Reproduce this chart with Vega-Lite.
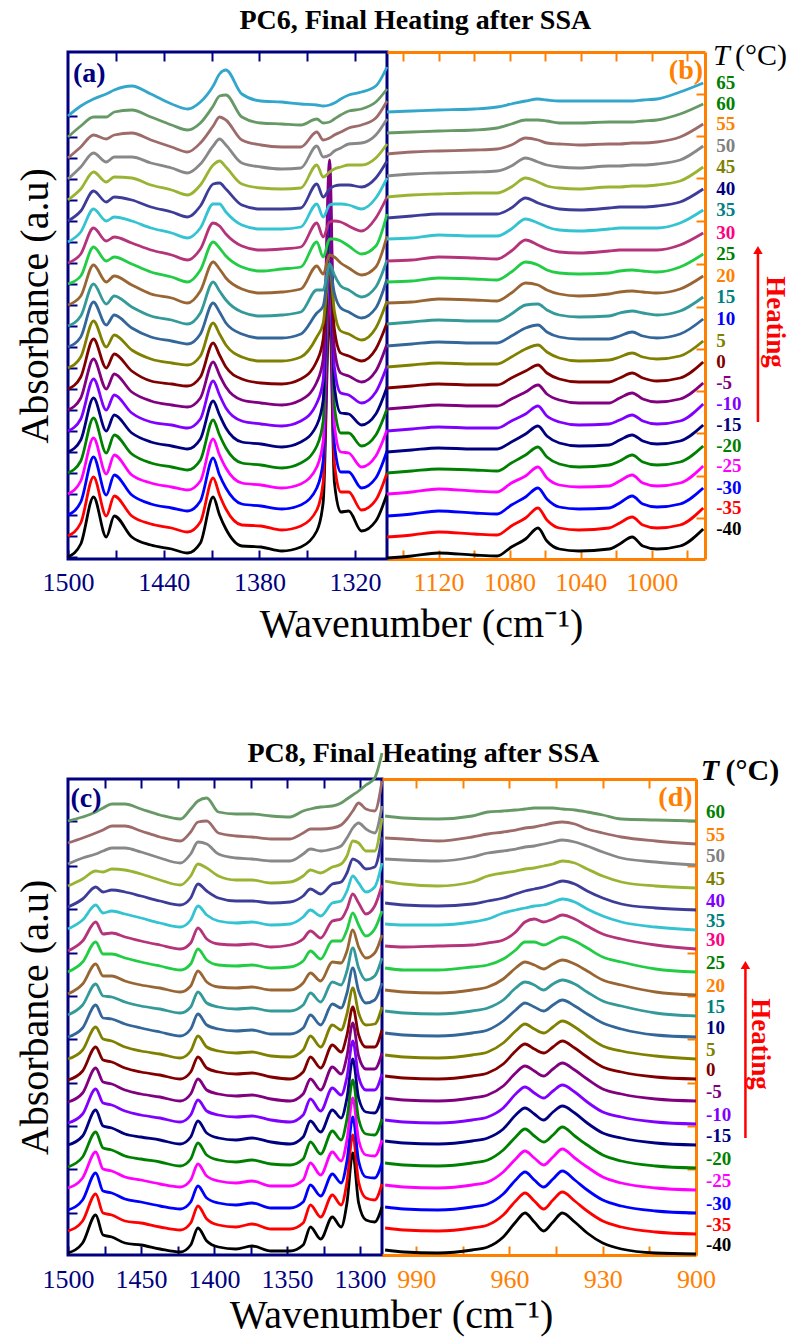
{
"$schema":"https://vega.github.io/schema/vega-lite/v6.json",
"background":"white",
"padding":{"left":13,"top":7,"right":0,"bottom":0},
"config":{"view":{"stroke":null},"axis":{"grid":false,"labelFlush":false},"font":"Liberation Serif"},
"spacing":94,
"resolve":{"scale":{"color":"independent"}},
"datasets":{
"A":[
{"T":-40,"x":[1500,1492,1484,1476,1471,1460,1448,1435,1425,1417,1409,1405,1401,1391,1379,1366,1354,1344,1340,1336,1333,1329,1324,1316,1307,1300],"y":[2,15,62,22,43,22,14,10,6,16,62,44,30,13,12,8,12,28,57,252,77,47,48,28,38,65]},
{"T":-35,"x":[1500,1492,1484,1476,1471,1460,1448,1435,1425,1417,1409,1405,1401,1391,1379,1366,1354,1344,1340,1336,1333,1329,1324,1316,1307,1300],"y":[23,36,82,43,63,43,35,31,27,37,81,64,50,34,33,29,33,49,77,273,96,67,67,49,59,86]},
{"T":-30,"x":[1500,1492,1484,1476,1471,1460,1448,1435,1425,1417,1409,1405,1401,1391,1379,1366,1354,1344,1340,1336,1333,1329,1324,1316,1307,1300],"y":[44,57,102,64,84,64,55,51,48,58,101,84,71,55,53,50,54,71,98,294,115,87,87,71,81,108]},
{"T":-25,"x":[1500,1492,1484,1476,1471,1460,1448,1435,1425,1417,1409,1405,1401,1391,1379,1366,1354,1344,1340,1336,1333,1329,1324,1316,1307,1300],"y":[65,78,121,85,104,84,76,72,69,78,120,104,91,76,74,71,75,92,118,315,134,107,106,92,103,129]},
{"T":-20,"x":[1500,1492,1484,1476,1471,1460,1448,1435,1425,1417,1409,1405,1401,1391,1379,1366,1354,1344,1340,1336,1333,1329,1324,1316,1307,1300],"y":[86,98,141,106,124,105,96,92,89,99,139,124,111,96,94,91,96,113,138,336,153,126,126,113,124,150]},
{"T":-15,"x":[1500,1492,1484,1476,1471,1460,1448,1435,1425,1417,1409,1405,1401,1391,1379,1366,1354,1344,1340,1336,1333,1329,1324,1316,1307,1300],"y":[107,119,161,128,144,126,117,113,110,120,158,144,131,117,115,112,117,134,159,357,173,146,145,134,145,172]},
{"T":-10,"x":[1500,1492,1484,1476,1471,1460,1448,1435,1425,1417,1409,1405,1401,1391,1379,1366,1354,1344,1340,1336,1333,1329,1324,1316,1307,1300],"y":[128,140,180,149,164,146,137,134,131,140,178,164,151,138,135,133,138,156,179,378,192,166,164,156,167,193]},
{"T":-5,"x":[1500,1492,1484,1476,1471,1460,1448,1435,1425,1417,1409,1405,1401,1391,1379,1366,1354,1344,1340,1336,1333,1329,1324,1316,1307,1300],"y":[149,161,200,170,185,167,158,154,152,161,197,184,172,159,156,154,159,177,200,399,211,186,183,177,188,215]},
{"T":0,"x":[1500,1492,1484,1476,1471,1460,1448,1435,1425,1417,1409,1405,1401,1391,1379,1366,1354,1344,1340,1336,1333,1329,1324,1316,1307,1300],"y":[170,182,220,191,205,188,178,175,173,182,216,204,192,180,176,175,180,198,220,292,230,206,203,198,210,236]},
{"T":5,"x":[1500,1492,1484,1476,1471,1460,1448,1435,1425,1417,1409,1405,1401,1391,1379,1366,1354,1344,1340,1336,1333,1329,1324,1316,1307,1300],"y":[191,202,238,212,224,209,200,196,194,203,236,225,214,202,198,198,202,222,236,292,248,228,225,219,231,258]},
{"T":10,"x":[1500,1492,1484,1476,1471,1460,1448,1435,1425,1417,1409,1405,1401,1391,1379,1366,1354,1344,1340,1336,1333,1329,1324,1316,1307,1300],"y":[212,222,257,234,244,231,222,218,215,225,256,247,236,225,221,221,225,246,253,292,266,251,247,241,251,280]},
{"T":15,"x":[1500,1492,1484,1476,1471,1460,1448,1435,1425,1417,1409,1405,1401,1391,1379,1366,1354,1344,1340,1336,1333,1329,1324,1316,1307,1300],"y":[233,243,275,255,263,252,243,239,235,246,277,268,259,247,243,244,247,269,269,295,284,273,269,262,272,299]},
{"T":20,"x":[1500,1492,1484,1476,1471,1460,1448,1435,1425,1417,1409,1405,1401,1391,1379,1366,1354,1344,1340,1336,1333,1329,1324,1316,1307,1300],"y":[254,263,294,277,283,274,265,261,256,268,297,290,281,270,266,267,270,293,285,304,302,296,291,284,292,323]},
{"T":25,"x":[1500,1492,1484,1476,1471,1460,1448,1435,1425,1417,1409,1405,1401,1391,1379,1366,1354,1344,1340,1336,1333,1329,1324,1316,1307,1300],"y":[275,283,312,298,302,295,287,282,277,289,317,311,303,292,288,290,292,317,302,320,320,318,313,305,313,345]},
{"T":30,"x":[1500,1492,1484,1476,1471,1460,1448,1435,1425,1417,1409,1405,1401,1391,1379,1366,1354,1344,1340,1336,1333,1329,1324,1316,1307,1300],"y":[296,305,331,318,322,316,309,304,299,310,336,333,325,313,309,310,312,336,322,337,338,337,333,328,341,362]},
{"T":35,"x":[1500,1492,1484,1476,1471,1460,1448,1435,1425,1417,1409,1405,1401,1391,1379,1366,1354,1344,1340,1336,1333,1329,1324,1316,1307,1300],"y":[317,327,350,338,342,338,331,326,321,331,355,355,347,334,330,330,332,355,342,354,355,355,354,350,361,381]},
{"T":40,"x":[1500,1492,1484,1476,1471,1460,1448,1435,1425,1417,1409,1405,1401,1391,1379,1366,1354,1344,1340,1336,1333,1329,1324,1316,1307,1300],"y":[338,348,368,357,362,359,352,347,342,353,375,376,370,354,350,350,351,375,362,370,373,374,374,372,381,398]},
{"T":45,"x":[1500,1492,1484,1476,1471,1460,1448,1435,1425,1417,1409,1405,1401,1391,1379,1366,1354,1344,1340,1336,1333,1329,1324,1316,1307,1300],"y":[359,370,387,377,382,381,374,369,364,374,394,398,392,375,371,370,371,394,382,387,390,392,394,394,401,415]},
{"T":50,"x":[1500,1492,1484,1476,1471,1460,1448,1435,1425,1417,1409,1405,1401,1391,1379,1366,1354,1344,1340,1336,1333,1329,1324,1316,1307,1300],"y":[380,392,406,397,402,402,396,391,386,395,413,420,414,396,392,390,391,413,402,404,408,411,415,416,424,440]},
{"T":55,"x":[1500,1492,1484,1476,1471,1460,1448,1435,1425,1417,1409,1405,1401,1391,1379,1366,1354,1344,1340,1336,1333,1329,1324,1316,1307,1300],"y":[401,412,424,420,424,426,419,412,407,416,433,442,439,419,414,412,412,427,419,421,424,427,431,434,441,458]},
{"T":60,"x":[1500,1492,1484,1476,1471,1460,1448,1435,1425,1417,1409,1405,1401,1391,1379,1366,1354,1344,1340,1336,1333,1329,1324,1316,1307,1300],"y":[422,433,442,442,447,449,442,434,429,436,453,463,464,442,436,435,434,440,436,437,440,444,448,450,457,470]},
{"T":65,"x":[1500,1492,1484,1476,1471,1460,1448,1435,1425,1417,1409,1405,1401,1391,1379,1366,1354,1344,1340,1336,1333,1329,1324,1316,1307,1300],"y":[443,453,460,465,469,473,465,455,450,457,473,485,489,465,458,457,455,454,453,454,456,460,464,467,473,492]}
],
"B":[
{"T":-40,"x":[1149,1135,1120,1100,1087,1079,1071,1064,1059,1052,1041,1024,1018,1011,1005,997,984,971],"y":[1,3,6,4,3,12,20,31,18,10,8,10,15,22,13,10,13,30]},
{"T":-35,"x":[1149,1135,1120,1100,1087,1079,1071,1064,1059,1052,1041,1024,1018,1011,1005,997,984,971],"y":[22,24,27,25,24,33,41,51,39,31,29,31,36,42,34,31,34,51]},
{"T":-30,"x":[1149,1135,1120,1100,1087,1079,1071,1064,1059,1052,1041,1024,1018,1011,1005,997,984,971],"y":[43,45,48,46,45,54,62,71,60,52,50,51,56,63,55,52,55,71]},
{"T":-25,"x":[1149,1135,1120,1100,1087,1079,1071,1064,1059,1052,1041,1024,1018,1011,1005,997,984,971],"y":[65,67,70,68,67,76,83,92,81,74,72,73,78,84,76,73,76,93]},
{"T":-20,"x":[1149,1135,1120,1100,1087,1079,1071,1064,1059,1052,1041,1024,1018,1011,1005,997,984,971],"y":[86,88,90,89,88,96,104,112,102,95,92,94,98,104,97,94,97,113]},
{"T":-15,"x":[1149,1135,1120,1100,1087,1079,1071,1064,1059,1052,1041,1024,1018,1011,1005,997,984,971],"y":[107,109,111,110,110,117,125,133,123,116,113,114,119,124,118,115,118,134]},
{"T":-10,"x":[1149,1135,1120,1100,1087,1079,1071,1064,1059,1052,1041,1024,1018,1011,1005,997,984,971],"y":[128,130,132,131,131,138,145,153,143,137,134,135,139,144,138,135,138,155]},
{"T":-5,"x":[1149,1135,1120,1100,1087,1079,1071,1064,1059,1052,1041,1024,1018,1011,1005,997,984,971],"y":[150,152,154,153,153,160,167,174,165,159,156,156,161,166,160,157,160,176]},
{"T":0,"x":[1149,1135,1120,1100,1087,1079,1071,1064,1059,1052,1041,1024,1018,1011,1005,997,984,971],"y":[171,173,175,174,174,181,188,194,186,180,177,177,181,186,181,178,181,197]},
{"T":5,"x":[1149,1135,1120,1100,1087,1079,1071,1064,1059,1052,1041,1024,1018,1011,1005,997,984,971],"y":[192,194,196,195,195,202,210,214,207,201,198,199,202,206,202,200,203,218]},
{"T":10,"x":[1149,1135,1120,1100,1087,1079,1071,1064,1059,1052,1041,1024,1018,1011,1005,997,984,971],"y":[213,215,217,216,216,223,231,234,227,222,220,220,223,227,223,221,225,240]},
{"T":15,"x":[1149,1135,1120,1100,1087,1079,1071,1064,1059,1052,1041,1024,1018,1011,1005,997,984,971],"y":[235,237,239,238,238,245,254,255,249,244,242,243,246,248,246,244,248,262]},
{"T":20,"x":[1149,1135,1120,1100,1087,1079,1071,1064,1059,1052,1041,1024,1018,1011,1005,997,984,971],"y":[256,257,260,259,258,266,276,274,269,265,263,265,267,268,267,266,270,283]},
{"T":25,"x":[1149,1135,1120,1100,1087,1079,1071,1064,1059,1052,1041,1024,1018,1011,1005,997,984,971],"y":[277,278,281,280,279,287,297,294,289,286,285,286,288,289,288,287,292,305]},
{"T":30,"x":[1149,1135,1120,1100,1087,1079,1071,1064,1059,1052,1041,1024,1018,1011,1005,997,984,971],"y":[298,299,302,301,300,308,319,314,310,307,306,308,309,309,309,309,314,326]},
{"T":35,"x":[1149,1135,1120,1100,1087,1079,1071,1064,1059,1052,1041,1024,1018,1011,1005,997,984,971],"y":[320,321,324,323,323,330,340,336,332,329,328,330,331,331,331,331,336,349]},
{"T":40,"x":[1149,1135,1120,1100,1087,1079,1071,1064,1059,1052,1041,1024,1018,1011,1005,997,984,971],"y":[341,343,345,345,345,351,361,356,353,350,349,351,352,352,352,353,357,370]},
{"T":45,"x":[1149,1135,1120,1100,1087,1079,1071,1064,1059,1052,1041,1024,1018,1011,1005,997,984,971],"y":[362,364,365,366,366,372,381,377,373,371,370,372,372,373,373,374,378,392]},
{"T":50,"x":[1149,1135,1120,1100,1087,1079,1071,1064,1059,1052,1041,1024,1018,1011,1005,997,984,971],"y":[383,385,386,387,388,393,401,397,394,392,391,393,393,394,394,395,399,413]},
{"T":55,"x":[1149,1135,1120,1100,1087,1079,1071,1064,1059,1052,1041,1024,1018,1011,1005,997,984,971],"y":[405,407,408,409,410,414,421,419,416,415,414,415,415,416,416,417,422,435]},
{"T":60,"x":[1149,1135,1120,1100,1087,1079,1071,1064,1059,1052,1041,1024,1018,1011,1005,997,984,971],"y":[426,427,428,429,431,435,439,439,438,436,436,437,437,437,438,439,445,455]},
{"T":65,"x":[1149,1135,1120,1100,1087,1079,1071,1064,1059,1052,1041,1024,1018,1011,1005,997,984,971],"y":[447,448,449,450,452,455,458,460,459,458,458,458,458,458,459,460,467,476]}
],
"C":[
{"T":-40,"x":[1500,1490,1481,1476,1470,1461,1450,1437,1423,1416,1411,1405,1397,1385,1374,1361,1348,1339,1334,1327,1319,1313,1309,1305,1301,1296,1290,1285],"y":[2,12,40,20,18,12,10,6,3,10,27,14,8,6,9,4,4,10,28,16,38,28,52,102,52,35,33,48]},
{"T":-35,"x":[1500,1490,1481,1476,1470,1461,1450,1437,1423,1416,1411,1405,1397,1385,1374,1361,1348,1339,1334,1327,1319,1313,1309,1305,1301,1296,1290,1285],"y":[24,34,61,42,40,34,32,28,25,32,49,36,30,28,31,26,26,32,50,38,60,50,73,120,73,57,55,71]},
{"T":-30,"x":[1500,1490,1481,1476,1470,1461,1450,1437,1423,1416,1411,1405,1397,1385,1374,1361,1348,1339,1334,1327,1319,1313,1309,1305,1301,1296,1290,1285],"y":[45,55,82,64,62,56,53,49,46,53,69,57,52,50,52,47,47,53,70,59,81,72,94,138,94,78,77,92]},
{"T":-25,"x":[1500,1490,1481,1476,1470,1461,1450,1437,1423,1416,1411,1405,1397,1385,1374,1361,1348,1339,1334,1327,1319,1313,1309,1305,1301,1296,1290,1285],"y":[67,77,103,86,84,78,75,71,68,75,91,79,74,72,74,69,69,75,92,80,103,94,115,157,115,100,99,115]},
{"T":-20,"x":[1500,1490,1481,1476,1470,1461,1450,1437,1423,1416,1411,1405,1397,1385,1374,1361,1348,1339,1334,1327,1319,1313,1309,1305,1301,1296,1290,1285],"y":[88,98,123,107,105,99,96,93,89,96,112,100,95,93,95,91,90,96,113,101,124,115,136,175,136,121,120,136]},
{"T":-15,"x":[1500,1490,1481,1476,1470,1461,1450,1437,1423,1416,1411,1405,1397,1385,1374,1361,1348,1339,1334,1327,1319,1313,1309,1305,1301,1296,1290,1285],"y":[110,119,145,129,127,121,118,115,111,118,134,122,117,115,117,113,111,118,134,123,145,137,157,196,157,143,142,158]},
{"T":-10,"x":[1500,1490,1481,1476,1470,1461,1450,1437,1423,1416,1411,1405,1397,1385,1374,1361,1348,1339,1334,1327,1319,1313,1309,1305,1301,1296,1290,1285],"y":[132,141,166,152,150,144,140,137,133,140,155,144,140,138,139,135,133,140,156,144,167,160,178,214,178,165,165,181]},
{"T":-5,"x":[1500,1490,1481,1476,1470,1461,1450,1437,1423,1416,1411,1405,1397,1385,1374,1361,1348,1339,1334,1327,1319,1313,1309,1305,1301,1296,1290,1285],"y":[153,162,187,173,171,165,161,158,154,161,176,165,161,159,160,156,154,161,176,165,188,181,199,232,199,186,186,202]},
{"T":0,"x":[1500,1490,1481,1476,1470,1461,1450,1437,1423,1416,1411,1405,1397,1385,1374,1361,1348,1339,1334,1327,1319,1313,1309,1305,1301,1296,1290,1285],"y":[175,184,208,195,193,187,183,180,176,183,198,187,183,181,182,178,176,183,198,187,210,203,220,248,220,208,208,225]},
{"T":5,"x":[1500,1490,1481,1476,1470,1461,1450,1437,1423,1416,1411,1405,1397,1385,1374,1361,1348,1339,1334,1327,1319,1313,1309,1305,1301,1296,1290,1285],"y":[196,205,228,216,214,208,204,201,197,204,219,208,204,202,203,199,198,205,219,208,230,225,241,267,242,230,231,248]},
{"T":10,"x":[1500,1490,1481,1476,1470,1461,1450,1437,1423,1416,1411,1405,1397,1385,1374,1361,1348,1339,1334,1327,1319,1313,1309,1305,1301,1296,1290,1285],"y":[218,227,250,237,236,231,227,223,219,226,241,230,226,224,225,221,221,227,240,230,251,247,262,287,264,252,255,272]},
{"T":15,"x":[1500,1490,1481,1476,1470,1461,1450,1437,1423,1416,1411,1405,1397,1385,1374,1361,1348,1339,1334,1327,1319,1313,1309,1305,1301,1296,1290,1285],"y":[240,250,271,259,258,253,249,246,242,248,263,252,248,246,247,244,244,250,262,253,273,270,284,307,287,275,279,297]},
{"T":20,"x":[1500,1490,1481,1476,1470,1461,1450,1437,1423,1416,1411,1405,1397,1385,1374,1361,1348,1339,1334,1327,1319,1313,1309,1305,1301,1296,1290,1285],"y":[261,271,291,279,279,274,270,267,263,269,284,273,268,267,268,265,265,272,282,274,293,292,304,325,308,297,302,320]},
{"T":25,"x":[1500,1490,1481,1476,1470,1461,1450,1437,1423,1416,1411,1405,1397,1385,1374,1361,1348,1339,1334,1327,1319,1313,1309,1305,1301,1296,1290,1285],"y":[283,293,313,301,301,297,293,289,285,291,306,295,290,289,290,287,288,294,304,296,314,314,325,342,330,319,326,344]},
{"T":30,"x":[1500,1490,1481,1476,1470,1461,1450,1437,1423,1416,1411,1405,1397,1385,1374,1361,1348,1339,1334,1327,1319,1313,1309,1305,1301,1296,1290,1285],"y":[304,314,333,321,322,318,314,310,306,312,327,316,311,310,311,308,310,316,324,317,334,336,346,361,352,341,349,370]},
{"T":35,"x":[1500,1490,1481,1476,1470,1461,1450,1437,1423,1416,1411,1405,1397,1385,1374,1361,1348,1339,1334,1327,1319,1313,1309,1305,1301,1296,1290,1285],"y":[326,335,350,342,344,341,337,332,328,335,349,340,334,332,333,330,331,338,345,339,352,354,364,379,372,363,368,392]},
{"T":40,"x":[1500,1490,1481,1476,1470,1461,1450,1437,1423,1416,1411,1405,1397,1385,1374,1361,1348,1339,1334,1327,1319,1313,1309,1305,1301,1296,1290,1285],"y":[348,356,368,363,365,363,359,354,350,357,371,364,357,354,354,352,353,359,366,361,371,373,382,396,393,386,388,418]},
{"T":45,"x":[1500,1490,1481,1476,1470,1461,1450,1437,1423,1416,1411,1405,1397,1385,1374,1361,1348,1339,1334,1327,1319,1313,1309,1305,1301,1296,1290,1285],"y":[369,376,384,383,386,385,381,375,370,379,391,387,379,375,375,372,373,379,385,382,388,391,399,414,412,404,404,437]},
{"T":50,"x":[1500,1490,1481,1476,1470,1461,1450,1437,1423,1416,1411,1405,1397,1385,1374,1361,1348,1339,1334,1327,1319,1313,1309,1305,1301,1296,1290,1285],"y":[391,397,401,404,407,407,403,397,392,401,413,411,401,397,396,394,394,401,406,404,406,409,417,427,432,426,422,449]},
{"T":55,"x":[1500,1490,1481,1476,1470,1461,1450,1437,1423,1416,1411,1405,1397,1385,1374,1361,1348,1339,1334,1327,1319,1313,1309,1305,1301,1296,1290,1285],"y":[412,417,422,425,429,429,424,418,414,423,433,434,422,419,418,416,416,422,426,426,427,430,436,444,452,446,444,474]},
{"T":60,"x":[1500,1490,1481,1476,1470,1461,1450,1437,1423,1416,1411,1405,1397,1385,1374,1361,1348,1339,1334,1327,1319,1313,1309,1305,1301,1296,1290,1285],"y":[434,438,443,447,451,451,446,440,436,446,454,457,443,441,441,439,438,444,446,448,449,452,456,460,464,470,477,502]}
],
"D":[
{"T":-40,"x":[1000,994,983,972,967,962,958,955,952,949,946,943,939,935,930,924,913,900],"y":[5,3,2,5,8,18,33,42,33,24,33,42,33,22,12,6,2,1]},
{"T":-35,"x":[1000,994,983,972,967,962,958,955,952,949,946,943,939,935,930,924,913,900],"y":[27,25,24,27,30,40,54,62,54,46,55,63,54,44,34,28,23,21]},
{"T":-30,"x":[1000,994,983,972,967,962,958,955,952,949,946,943,939,935,930,924,913,900],"y":[48,46,45,48,51,61,75,83,75,68,76,84,75,65,55,49,44,42]},
{"T":-25,"x":[1000,994,983,972,967,962,958,955,952,949,946,943,939,935,930,924,913,900],"y":[70,68,67,70,73,83,96,104,97,90,98,106,97,88,78,72,67,65]},
{"T":-20,"x":[1000,994,983,972,967,962,958,955,952,949,946,943,939,935,930,924,913,900],"y":[92,90,89,92,95,105,118,126,119,113,120,128,119,110,100,94,89,87]},
{"T":-15,"x":[1000,994,983,972,967,962,958,955,952,949,946,943,939,935,930,924,913,900],"y":[114,112,111,114,117,126,140,147,141,135,143,149,142,132,122,117,112,110]},
{"T":-10,"x":[1000,994,983,972,967,962,958,955,952,949,946,943,939,935,930,924,913,900],"y":[135,133,132,135,138,147,161,168,162,157,164,170,163,153,143,138,133,131]},
{"T":-5,"x":[1000,994,983,972,967,962,958,955,952,949,946,943,939,935,930,924,913,900],"y":[157,155,154,157,160,169,182,189,184,179,186,192,185,176,166,161,156,154]},
{"T":0,"x":[1000,994,983,972,967,962,958,955,952,949,946,943,939,935,930,924,913,900],"y":[179,177,176,179,182,191,204,211,206,202,208,214,207,198,188,183,178,176]},
{"T":5,"x":[1000,994,983,972,967,962,958,955,952,949,946,943,939,935,930,924,913,900],"y":[200,198,197,200,203,212,224,231,226,222,228,234,228,219,209,204,199,196]},
{"T":10,"x":[1000,994,983,972,967,962,958,955,952,949,946,943,939,935,930,924,913,900],"y":[222,220,219,222,225,234,245,252,248,244,250,255,249,241,232,226,220,218]},
{"T":15,"x":[1000,994,983,972,967,962,958,955,952,949,946,943,939,935,930,924,913,900],"y":[244,242,241,244,247,255,267,273,270,265,271,275,271,263,254,249,242,239]},
{"T":20,"x":[1000,994,983,972,967,962,958,955,952,949,946,943,939,935,930,924,913,900],"y":[265,263,262,265,268,276,287,293,290,286,291,295,291,284,275,270,263,260]},
{"T":25,"x":[1000,994,983,972,967,962,958,955,952,949,946,943,939,935,930,924,913,900],"y":[287,285,285,288,290,296,305,313,313,310,314,318,314,307,298,293,286,283]},
{"T":30,"x":[1000,994,983,972,967,962,958,955,952,949,946,943,939,935,930,924,913,900],"y":[309,308,309,310,312,315,323,333,336,333,336,340,336,329,321,316,310,306]},
{"T":35,"x":[1000,994,983,972,967,962,958,955,952,949,946,943,939,935,930,924,913,900],"y":[331,330,330,333,336,342,345,347,349,350,353,356,353,346,339,333,328,325]},
{"T":40,"x":[1000,994,983,972,967,962,958,955,952,949,946,943,939,935,930,924,913,900],"y":[352,350,349,351,354,357,361,364,366,368,371,374,371,364,357,351,347,345]},
{"T":45,"x":[1000,994,983,972,967,962,958,955,952,949,946,943,939,935,930,924,913,900],"y":[374,371,369,373,379,382,384,386,387,389,391,394,392,386,379,373,369,367]},
{"T":50,"x":[1000,994,983,972,967,962,958,955,952,949,946,943,939,935,930,924,913,900],"y":[396,395,394,398,402,404,406,408,409,411,413,415,413,409,403,397,393,390]},
{"T":55,"x":[1000,994,983,972,967,962,958,955,952,949,946,943,939,935,930,924,913,900],"y":[417,416,414,418,421,423,425,427,428,430,432,433,431,426,422,418,414,411]},
{"T":60,"x":[1000,994,983,972,967,962,958,955,952,949,946,943,939,935,930,924,913,900],"y":[439,437,436,439,443,444,445,446,447,447,447,446,445,443,440,436,435,434]}
]
},
"vconcat":[
{
"title":{"text":"PC6, Final Heating after SSA","font":"Liberation Serif","fontSize":28,"fontWeight":"bold","color":"#000000","anchor":"middle","offset":6,"dx":14},
"bounds":"flush","spacing":0,
"resolve":{"scale":{"color":"independent"}},
"hconcat":[
{
"width":319,"height":507,
"view":{"stroke":"#000080","strokeWidth":3},
"resolve":{"axis":{"x":"independent","y":"independent"}},
"layer":[
{"data":{"name":"A"},"transform":[{"flatten":["x","y"]}],
"mark":{"type":"line","strokeWidth":2.8,"interpolate":"monotone","strokeJoin":"round"},
"encoding":{
"x":{"field":"x","type":"quantitative","scale":{"domain":[1300,1500],"reverse":true,"nice":false,"zero":false},
"axis":{"orient":"bottom","values":[1500,1470,1440,1410,1380,1350,1320],"format":"d","labelExpr":"datum.value % 60 === 0 ? datum.label : ''","labelFlush":false,"domain":false,"tickColor":"#000080","tickWidth":2,"tickSize":-9,"labelColor":"#000080","labelFont":"Liberation Serif","labelFontSize":26,"labelPadding":19,"title":"Wavenumber (cm⁻¹)","titleFont":"Liberation Serif","titleFontSize":40,"titleFontWeight":"normal","titleColor":"#000000","titleX":353,"titleY":77,"titleBaseline":"alphabetic","titleAlign":"center"}},
"y":{"field":"y","type":"quantitative","scale":{"domain":[0,507],"nice":false,"zero":false},
"axis":{"orient":"left","values":[2,23,44,65,86,107,128,149,170,191,212,233,254,275,296,317,338,359,380,401,422,443],"labels":false,"domain":false,"tickColor":"#000080","tickWidth":2,"tickSize":-9,"title":"Absorbance (a.u)","titleFont":"Liberation Serif","titleFontSize":40,"titleFontWeight":"normal","titleColor":"#000000","titlePadding":12}},
"color":{"field":"T","type":"nominal","scale":{"domain":[-40,-35,-30,-25,-20,-15,-10,-5,0,5,10,15,20,25,30,35,40,45,50,55,60,65],"range":["#000000","#ff0000","#0000ff","#ff00ff","#008000","#000080","#8000ff","#800080","#800000","#808000","#336699","#339999","#996633","#22cc44","#b5337a","#33c3d1","#3d3d99","#99b333","#888888","#9e6b6b","#669966","#33a6cc"]},"legend":null}
}},
{"data":{"values":[{}]},
"mark":{"type":"text","text":"(a)","font":"Liberation Serif","fontSize":28,"fontWeight":"bold","color":"#000080","align":"left","baseline":"middle"},
"encoding":{
"x":{"datum":1496.9,"type":"quantitative","axis":{"orient":"top","values":[1470,1440,1410,1380,1350,1320],"labels":false,"domain":false,"tickColor":"#000080","tickWidth":2,"tickSize":-9,"title":null}},
"y":{"datum":485,"type":"quantitative","axis":null}}}
]
},
{
"width":318,"height":507,
"resolve":{"axis":{"x":"independent","y":"independent"},"scale":{"color":"independent"}},
"layer":[
{"data":{"name":"B"},"transform":[{"flatten":["x","y"]}],
"mark":{"type":"line","strokeWidth":2.8,"interpolate":"monotone","strokeJoin":"round"},
"encoding":{
"x":{"field":"x","type":"quantitative","scale":{"domain":[970,1149],"reverse":true,"nice":false,"zero":false},
"axis":{"orient":"bottom","values":[1140,1120,1100,1080,1060,1040,1020,1000,980],"format":"d","labelExpr":"datum.value % 40 === 0 ? datum.label : ''","labelFlush":false,"domain":true,"domainColor":"#ff8000","domainWidth":3,"tickColor":"#ff8000","tickWidth":2,"tickSize":-9,"labelColor":"#ff8000","labelFont":"Liberation Serif","labelFontSize":26,"labelPadding":19,"title":null}},
"y":{"field":"y","type":"quantitative","scale":{"domain":[0,507],"nice":false,"zero":false},
"axis":{"orient":"right","values":[41,83,126,168,210,252,295,338,381,423,465],"labels":false,"domain":true,"domainColor":"#ff8000","domainWidth":3,"tickColor":"#ff8000","tickWidth":2,"tickSize":-9,"title":null}},
"color":{"field":"T","type":"nominal","scale":{"domain":[-40,-35,-30,-25,-20,-15,-10,-5,0,5,10,15,20,25,30,35,40,45,50,55,60,65],"range":["#000000","#ff0000","#0000ff","#ff00ff","#008000","#000080","#8000ff","#800080","#800000","#808000","#336699","#339999","#996633","#22cc44","#b5337a","#33c3d1","#3d3d99","#99b333","#888888","#9e6b6b","#669966","#33a6cc"]},"legend":null}
}},
{"data":{"name":"B"},"transform":[{"flatten":["x","y"]},{"filter":"datum.x == 971"}],
"mark":{"type":"text","align":"left","baseline":"middle","dx":13,"font":"Liberation Serif","fontSize":19,"fontWeight":"bold"},
"encoding":{
"x":{"field":"x","type":"quantitative","axis":{"orient":"top","values":[1140,1120,1100,1080,1060,1040,1020,1000,980],"labels":false,"domain":true,"domainColor":"#ff8000","domainWidth":3,"tickColor":"#ff8000","tickWidth":2,"tickSize":-9,"title":null}},
"y":{"field":"y","type":"quantitative","axis":null},
"text":{"field":"T","type":"nominal"},
"color":{"field":"T","type":"nominal","scale":{"domain":[-40,-35,-30,-25,-20,-15,-10,-5,0,5,10,15,20,25,30,35,40,45,50,55,60,65],"range":["#000000","#ff0000","#0000ff","#ff00ff","#008000","#000080","#8000ff","#800080","#800000","#808000","#0000ff","#008080","#ff8000","#008000","#ff0080","#008080","#000080","#808000","#808080","#ff8000","#008000","#008000"]},"legend":null}
}},
{"data":{"values":[{}]},
"mark":{"type":"text","text":"(b)","font":"Liberation Serif","fontSize":28,"fontWeight":"bold","color":"#ff8000","align":"right","baseline":"middle"},
"encoding":{"x":{"datum":971.1,"type":"quantitative","axis":null},"y":{"datum":488,"type":"quantitative","axis":null}}},
{"data":{"values":[{}]},
"mark":{"type":"text","text":"T","font":"Liberation Serif","fontSize":30,"fontStyle":"italic","color":"#000000","align":"left","baseline":"middle"},
"encoding":{"x":{"datum":965.5,"type":"quantitative","axis":null},"y":{"datum":503,"type":"quantitative","axis":null}}},
{"data":{"values":[{}]},
"mark":{"type":"text","text":"(°C)","font":"Liberation Serif","fontSize":30,"color":"#000000","align":"left","baseline":"middle"},
"encoding":{"x":{"datum":953.1,"type":"quantitative","axis":null},"y":{"datum":503,"type":"quantitative","axis":null}}},
{"data":{"values":[{}]},
"mark":{"type":"rule","color":"#ff0000","strokeWidth":2.5},
"encoding":{"x":{"datum":940.2,"type":"quantitative","axis":null},"y":{"datum":137,"type":"quantitative","axis":null},"y2":{"datum":308}}},
{"data":{"values":[{}]},
"mark":{"type":"point","shape":"triangle-up","filled":true,"color":"#ff0000","size":90,"opacity":1},
"encoding":{"x":{"datum":940.2,"type":"quantitative","axis":null},"y":{"datum":309,"type":"quantitative","axis":null}}},
{"data":{"values":[{}]},
"mark":{"type":"text","text":"Heating","angle":90,"font":"Liberation Serif","fontSize":27,"fontWeight":"bold","color":"#ff0000","align":"center","baseline":"middle"},
"encoding":{"x":{"datum":930.5,"type":"quantitative","axis":null},"y":{"datum":237,"type":"quantitative","axis":null}}}
]
}
]
},
{
"title":{"text":"PC8, Final Heating after SSA","font":"Liberation Serif","fontSize":28,"fontWeight":"bold","color":"#000000","anchor":"middle","offset":-18,"dx":27},
"bounds":"flush","spacing":0,
"resolve":{"scale":{"color":"independent"}},
"hconcat":[
{
"width":314,"height":476,
"view":{"stroke":"#000080","strokeWidth":3},
"resolve":{"axis":{"x":"independent","y":"independent"}},
"layer":[
{"data":{"name":"C"},"transform":[{"flatten":["x","y"]}],
"mark":{"type":"line","strokeWidth":2.8,"interpolate":"monotone","strokeJoin":"round"},
"encoding":{
"x":{"field":"x","type":"quantitative","scale":{"domain":[1285,1500],"reverse":true,"nice":false,"zero":false},
"axis":{"orient":"bottom","values":[1500,1475,1450,1425,1400,1375,1350,1325,1300],"format":"d","labelExpr":"datum.value % 50 === 0 ? datum.label : ''","labelFlush":false,"domain":false,"tickColor":"#000080","tickWidth":2,"tickSize":-9,"labelColor":"#000080","labelFont":"Liberation Serif","labelFontSize":26,"labelPadding":20,"title":"Wavenumber (cm⁻¹)","titleFont":"Liberation Serif","titleFontSize":40,"titleFontWeight":"normal","titleColor":"#000000","titleX":323,"titleY":72,"titleBaseline":"alphabetic","titleAlign":"center"}},
"y":{"field":"y","type":"quantitative","scale":{"domain":[0,476],"nice":false,"zero":false},
"axis":{"orient":"left","values":[42,86,129,172,216,259,302,346,389,434],"labels":false,"domain":false,"tickColor":"#000080","tickWidth":2,"tickSize":-9,"title":"Absorbance (a.u)","titleFont":"Liberation Serif","titleFontSize":40,"titleFontWeight":"normal","titleColor":"#000000","titlePadding":12}},
"color":{"field":"T","type":"nominal","scale":{"domain":[-40,-35,-30,-25,-20,-15,-10,-5,0,5,10,15,20,25,30,35,40,45,50,55,60],"range":["#000000","#ff0000","#0000ff","#ff00ff","#008000","#000080","#8000ff","#800080","#800000","#808000","#336699","#339999","#996633","#22cc44","#b5337a","#33c3d1","#3d3d99","#99b333","#888888","#9e6b6b","#669966"]},"legend":null}
}},
{"data":{"values":[{}]},
"mark":{"type":"text","text":"(c)","font":"Liberation Serif","fontSize":28,"fontWeight":"bold","color":"#000080","align":"left","baseline":"middle"},
"encoding":{
"x":{"datum":1498.3,"type":"quantitative","axis":{"orient":"top","values":[1475,1450,1425,1400,1375,1350,1325,1300],"labels":false,"domain":false,"tickColor":"#000080","tickWidth":2,"tickSize":-9,"title":null}},
"y":{"datum":456,"type":"quantitative","axis":null}}}
]
},
{
"width":314,"height":476,
"resolve":{"axis":{"x":"independent","y":"independent"},"scale":{"color":"independent"}},
"layer":[
{"data":{"name":"D"},"transform":[{"flatten":["x","y"]}],
"mark":{"type":"line","strokeWidth":2.8,"interpolate":"monotone","strokeJoin":"round"},
"encoding":{
"x":{"field":"x","type":"quantitative","scale":{"domain":[900,1001],"reverse":true,"nice":false,"zero":false},
"axis":{"orient":"bottom","values":[990,975,960,945,930,915,900],"format":"d","labelExpr":"datum.value % 30 === 0 ? datum.label : ''","labelFlush":false,"domain":true,"domainColor":"#ff8000","domainWidth":3,"tickColor":"#ff8000","tickWidth":2,"tickSize":-9,"labelColor":"#ff8000","labelFont":"Liberation Serif","labelFontSize":26,"labelPadding":20,"title":null}},
"y":{"field":"y","type":"quantitative","scale":{"domain":[0,476],"nice":false,"zero":false},
"axis":{"orient":"right","values":[42,86,129,172,216,259,302,346,389,434],"labels":false,"domain":true,"domainColor":"#ff8000","domainWidth":3,"tickColor":"#ff8000","tickWidth":2,"tickSize":-9,"title":null}},
"color":{"field":"T","type":"nominal","scale":{"domain":[-40,-35,-30,-25,-20,-15,-10,-5,0,5,10,15,20,25,30,35,40,45,50,55,60],"range":["#000000","#ff0000","#0000ff","#ff00ff","#008000","#000080","#8000ff","#800080","#800000","#808000","#336699","#339999","#996633","#22cc44","#b5337a","#33c3d1","#3d3d99","#99b333","#888888","#9e6b6b","#669966"]},"legend":null}
}},
{"data":{"name":"D"},"transform":[{"flatten":["x","y"]},{"filter":"datum.x == 900"}],
"mark":{"type":"text","align":"left","baseline":"middle","dx":10,"dy":-9,"font":"Liberation Serif","fontSize":19,"fontWeight":"bold"},
"encoding":{
"x":{"field":"x","type":"quantitative","axis":{"orient":"top","values":[990,975,960,945,930,915,900],"labels":false,"domain":true,"domainColor":"#ff8000","domainWidth":3,"tickColor":"#ff8000","tickWidth":2,"tickSize":-9,"title":null}},
"y":{"field":"y","type":"quantitative","axis":null},
"text":{"field":"T","type":"nominal"},
"color":{"field":"T","type":"nominal","scale":{"domain":[-40,-35,-30,-25,-20,-15,-10,-5,0,5,10,15,20,25,30,35,40,45,50,55,60],"range":["#000000","#ff0000","#0000ff","#ff00ff","#008000","#000080","#8000ff","#800080","#800000","#808000","#000080","#008080","#ff8000","#008000","#ff0080","#008080","#8000ff","#808000","#808080","#ff8000","#008000"]},"legend":null}
}},
{"data":{"values":[{}]},
"mark":{"type":"text","text":"(d)","font":"Liberation Serif","fontSize":28,"fontWeight":"bold","color":"#ff8000","align":"right","baseline":"middle"},
"encoding":{"x":{"datum":901.1,"type":"quantitative","axis":null},"y":{"datum":457,"type":"quantitative","axis":null}}},
{"data":{"values":[{}]},
"mark":{"type":"text","text":"T","font":"Liberation Serif","fontSize":30,"fontStyle":"italic","fontWeight":"bold","color":"#000000","align":"left","baseline":"middle"},
"encoding":{"x":{"datum":898.5,"type":"quantitative","axis":null},"y":{"datum":484,"type":"quantitative","axis":null}}},
{"data":{"values":[{}]},
"mark":{"type":"text","text":"(°C)","font":"Liberation Serif","fontSize":30,"fontWeight":"bold","color":"#000000","align":"left","baseline":"middle"},
"encoding":{"x":{"datum":890.5,"type":"quantitative","axis":null},"y":{"datum":484,"type":"quantitative","axis":null}}},
{"data":{"values":[{}]},
"mark":{"type":"rule","color":"#ff0000","strokeWidth":2.5},
"encoding":{"x":{"datum":884.1,"type":"quantitative","axis":null},"y":{"datum":117,"type":"quantitative","axis":null},"y2":{"datum":289}}},
{"data":{"values":[{}]},
"mark":{"type":"point","shape":"triangle-up","filled":true,"color":"#ff0000","size":90,"opacity":1},
"encoding":{"x":{"datum":884.1,"type":"quantitative","axis":null},"y":{"datum":290,"type":"quantitative","axis":null}}},
{"data":{"values":[{}]},
"mark":{"type":"text","text":"Heating","angle":90,"font":"Liberation Serif","fontSize":27,"fontWeight":"bold","color":"#ff0000","align":"center","baseline":"middle"},
"encoding":{"x":{"datum":879.5,"type":"quantitative","axis":null},"y":{"datum":211,"type":"quantitative","axis":null}}}
]
}
]
}
]
}
